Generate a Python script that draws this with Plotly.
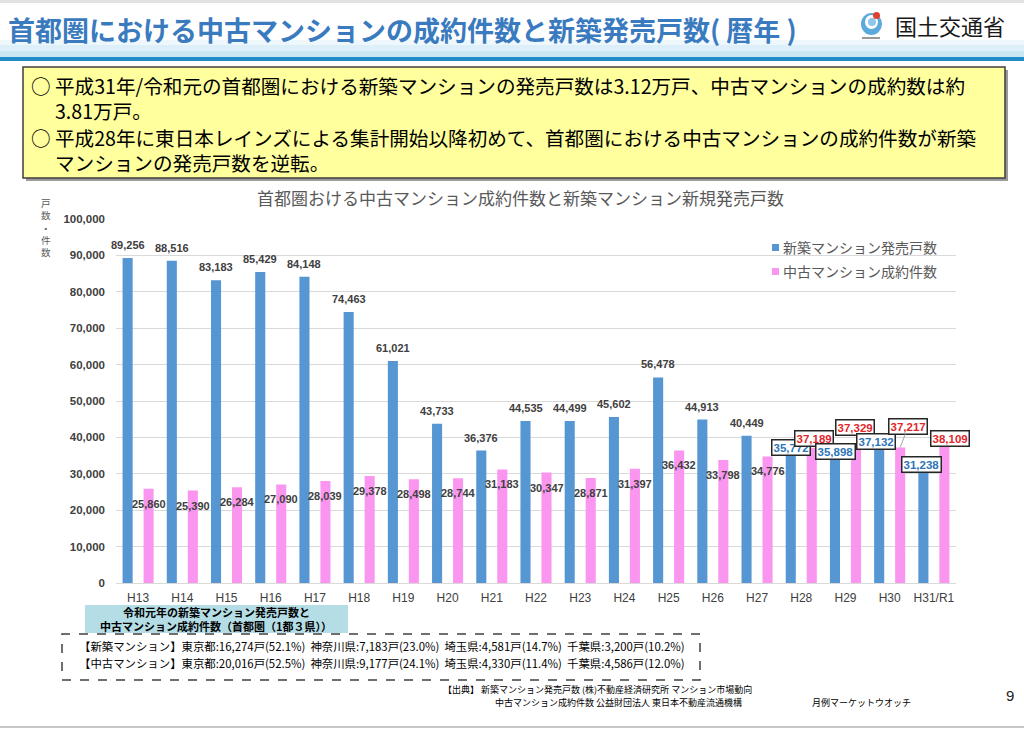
import plotly.graph_objects as go

# ---------------- data ----------------
categories = ["H13", "H14", "H15", "H16", "H17", "H18", "H19", "H20", "H21", "H22",
              "H23", "H24", "H25", "H26", "H27", "H28", "H29", "H30", "H31/R1"]
new_units = [89256, 88516, 83183, 85429, 84148, 74463, 61021, 43733, 36376, 44535,
             44499, 45602, 56478, 44913, 40449, 35772, 35898, 37132, 31238]
used_deals = [25860, 25390, 26284, 27090, 28039, 29378, 28498, 28744, 31183, 30347,
              28871, 31397, 36432, 33798, 34776, 37189, 37329, 37217, 38109]
series_names = ["新築マンション発売戸数", "中古マンション成約件数"]
y_ticks = list(range(0, 100001, 10000))

# ---------------- style / layout constants ----------------
W, H = 1024, 730
L, R, T, B = 116, 956, 219, 583
BLUE = "#5596D3"
PINK = "#FA96F0"
LABEL = "#404040"
JP = "Noto Sans CJK JP"
NUM = "Liberation Sans"
first_boxed = 15
# offsets (px) of the boxed labels relative to each bar top
box_dx_new = [0, 1, -3, -2]
box_dy_new = [5, 1, 6, 5]
box_dx_used = [2, -1, 8, 6]
box_dy_used = [9, 20, 21, 6]
half_slot = 10.5


def PX(x):
    return (x - L) / (R - L)


def PY(y):
    return (B - y) / (B - T)


fig = go.Figure()
fig.add_trace(go.Bar(x=categories, y=new_units, name=series_names[0],
                     marker=dict(color=BLUE, line=dict(width=0)), showlegend=False,
                     hoverinfo="x+y"))
fig.add_trace(go.Bar(x=categories, y=used_deals, name=series_names[1],
                     marker=dict(color=PINK, line=dict(width=0)), showlegend=False,
                     hoverinfo="x+y"))

ann = []
shapes = []

# data labels
for i, c in enumerate(categories):
    if i < first_boxed:
        ann.append(dict(x=c, y=new_units[i], xref="x", yref="y", xshift=-half_slot, yshift=13,
                        text=f"{new_units[i]:,}", showarrow=False,
                        font=dict(family=NUM, size=11, color=LABEL, weight="bold")))
        ann.append(dict(x=c, y=used_deals[i], xref="x", yref="y", xshift=half_slot, yshift=-15,
                        text=f"{used_deals[i]:,}", showarrow=False,
                        font=dict(family=NUM, size=11, color=LABEL, weight="bold")))
    else:
        k = i - first_boxed
        ann.append(dict(x=c, y=new_units[i], xref="x", yref="y",
                        xshift=-half_slot + box_dx_new[k], yshift=box_dy_new[k],
                        text=f"{new_units[i]:,}", showarrow=False,
                        bgcolor="white", bordercolor="#262626", borderwidth=1.5, borderpad=1,
                        font=dict(family=NUM, size=11.5, color="#2E75B6", weight="bold")))
        if k == 2:
            ann.append(dict(x=c, y=used_deals[i], xref="x", yref="y",
                            xshift=half_slot, yshift=0, ax=box_dx_used[k], ay=-box_dy_used[k],
                            text=f"{used_deals[i]:,}", showarrow=True, arrowhead=0,
                            arrowwidth=1, arrowcolor="#A6A6A6", standoff=0,
                            bgcolor="white", bordercolor="#262626", borderwidth=1.5, borderpad=1,
                            font=dict(family=NUM, size=11.5, color="#E3262B", weight="bold")))
        else:
            ann.append(dict(x=c, y=used_deals[i], xref="x", yref="y",
                            xshift=half_slot + box_dx_used[k], yshift=box_dy_used[k],
                            text=f"{used_deals[i]:,}", showarrow=False,
                            bgcolor="white", bordercolor="#262626", borderwidth=1.5, borderpad=1,
                            font=dict(family=NUM, size=11.5, color="#E3262B", weight="bold")))


def rect(x0, y0, x1, y1, fill, line_color=None, lw=0, dash=None, layer="below"):
    shapes.append(dict(type="rect", xref="paper", yref="paper",
                       x0=PX(x0), x1=PX(x1), y0=PY(y1), y1=PY(y0),
                       fillcolor=fill, layer=layer,
                       line=dict(color=line_color or "rgba(0,0,0,0)", width=lw, dash=dash)))


def text(x, y, s, size, color="#000000", xanchor="left", weight="normal", family=JP,
         align="left", yanchor="middle"):
    ann.append(dict(x=PX(x), y=PY(y), xref="paper", yref="paper", text=s, showarrow=False,
                    xanchor=xanchor, yanchor=yanchor, align=align,
                    font=dict(family=family, size=size, color=color, weight=weight)))


# header
rect(0, 0, 1024, 3, "#E2E2E2")
rect(0, 40, 1024, 45, "#EEF7FC")
rect(0, 45, 1024, 51, "#DDEFF9")
rect(0, 51, 1024, 57, "#C9E6F5")
rect(0, 57, 1024, 61, "#1E8CC6")
text(6, 29, "首都圏における中古マンションの成約件数と新築発売戸数( 暦年 )", 27, "#3A7BBF", weight="bold")
# logo
shapes.append(dict(type="circle", xref="paper", yref="paper", x0=PX(861), x1=PX(882),
                   y0=PY(35), y1=PY(13), fillcolor="#5CA9DC", line=dict(width=0), layer="above"))
shapes.append(dict(type="circle", xref="paper", yref="paper", x0=PX(865), x1=PX(878),
                   y0=PY(29), y1=PY(15), fillcolor="white", line=dict(width=0), layer="above"))
shapes.append(dict(type="circle", xref="paper", yref="paper", x0=PX(868), x1=PX(876),
                   y0=PY(26), y1=PY(18), fillcolor="#8FC6EA", line=dict(width=0), layer="above"))
shapes.append(dict(type="circle", xref="paper", yref="paper", x0=PX(873), x1=PX(880),
                   y0=PY(19), y1=PY(12), fillcolor="#E0402E", line=dict(width=0), layer="above"))
rect(862, 37, 880, 39, "#9A9A9A", layer="above")
text(893, 25, "国土交通省", 22, "#1A1A1A")

# yellow summary box
rect(26, 70, 1008, 181, "#9A9A9A")
rect(23, 67, 1005, 178, "#FFFF9E", "#3F3F3F", 1.5)
text(29, 98, "○ 平成31年/令和元の首都圏における新築マンションの発売戸数は3.12万戸、中古マンションの成約数は約<br>　 3.81万戸。", 19.6)
text(29, 150, "○ 平成28年に東日本レインズによる集計開始以降初めて、首都圏における中古マンションの成約件数が新築<br>　 マンションの発売戸数を逆転。", 19.6)

# chart title, axis title, legend
text(520, 197, "首都圏おける中古マンション成約件数と新築マンション新規発売戸数", 17, "#595959", xanchor="center")
text(46, 194, "戸<br>数<br>・<br>件<br>数", 9.5, "#595959", xanchor="center", align="center", yanchor="top")
rect(772, 244, 779, 251, BLUE, layer="above")
rect(772, 268, 779, 275, PINK, layer="above")
text(781, 247, series_names[0], 14, "#595959")
text(781, 271, series_names[1], 14, "#595959")

# bottom boxes
rect(85, 605, 348, 633, "#B4DDE6")
text(216, 612, "令和元年の新築マンション発売戸数と", 11, "#000000", xanchor="center", weight="bold")
text(216, 626, "中古マンション成約件数（首都圏（1都３県））", 11, "#000000", xanchor="center", weight="bold")
rect(62, 634, 700, 680, "rgba(0,0,0,0)", "#404040", 1.5, dash="dash")
text(77, 646, "【新築マンション】東京都:16,274戸(52.1%)  神奈川県:7,183戸(23.0%)  埼玉県:4,581戸(14.7%)  千葉県:3,200戸(10.2%)", 11.4)
text(77, 663, "【中古マンション】東京都:20,016戸(52.5%)  神奈川県:9,177戸(24.1%)  埼玉県:4,330戸(11.4%)  千葉県:4,586戸(12.0%)", 11.4)

# footer
text(441, 689, "【出典】 新築マンション発売戸数 (株)不動産経済研究所 マンション市場動向", 9)
text(493, 702, "中古マンション成約件数 公益財団法人 東日本不動産流通機構", 9)
text(913, 702, "月例マーケットウオッチ", 9, xanchor="right")
text(1010, 695, "9", 15, "#222222", xanchor="center", family=NUM)
rect(0, 726, 1024, 728, "#C8C8C8")

fig.update_layout(
    width=W, height=H,
    margin=dict(l=L, r=W - R, t=T, b=H - B, pad=0),
    paper_bgcolor="white", plot_bgcolor="white",
    barmode="group", bargap=0.05, bargroupgap=0.52,
    showlegend=False,
    annotations=ann, shapes=shapes,
    xaxis=dict(type="category", range=[-0.5, len(categories) - 0.5], autorange=False,
               showgrid=False, showline=False, ticks="",
               tickfont=dict(family=NUM, size=12, color=LABEL), ticklabelstandoff=6,
               fixedrange=True),
    yaxis=dict(range=[0, 100000], autorange=False, tickvals=y_ticks, tickformat=",", showgrid=True,
               gridcolor="#D9D9D9", gridwidth=1, zeroline=True, zerolinecolor="#D9D9D9",
               zerolinewidth=1, showline=False, ticks="", ticklabelstandoff=10,
               tickfont=dict(family=NUM, size=11.5, color=LABEL, weight="bold"),
               fixedrange=True),
)

fig.write_html("out.html", config={"displayModeBar": False},
               post_script="document.body.style.margin='0px';document.body.style.overflow='hidden';")
